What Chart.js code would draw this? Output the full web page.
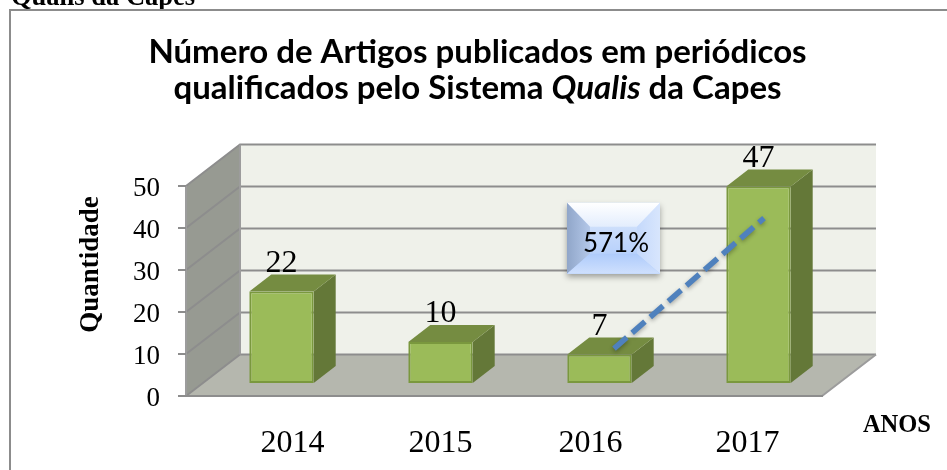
<!DOCTYPE html>
<html>
<head>
<meta charset="utf-8">
<style>html,body{margin:0;padding:0;background:#fff}canvas{display:block}</style>
<script src="https://cdn.jsdelivr.net/npm/chart.js@4/dist/chart.umd.min.js"></script>
</head>
<body>
<canvas id="c" width="947" height="470"></canvas>
<script>
const categories = ['2014', '2015', '2016', '2017'];
const artigos = [22, 10, 7, 47];
const yTicks = [0, 10, 20, 30, 40, 50];
const variationLabel = '571%';
const yTitle = 'Quantidade';
const xTitle = 'ANOS';
const caption = 'Qualis da Capes';

const WALL_DX = 54, WALL_DY = 41.5, BAR_SHIFT_X = 16, BAR_SHIFT_Y = 12, BAR_DX = 22, BAR_DY = 17;
const LABEL_NUDGE = [11, 0, -9, -11];
const SERIF = '"Liberation Serif", serif';
const SANS = 'Lato, sans-serif';

function poly(ctx, pts, fill) {
  ctx.beginPath();
  pts.forEach((p, i) => i ? ctx.lineTo(p[0], p[1]) : ctx.moveTo(p[0], p[1]));
  ctx.closePath();
  if (fill) { ctx.fillStyle = fill; ctx.fill(); }
}

const scene = {
  id: 'scene',
  beforeDraw(chart) {
    const { ctx, chartArea: a, scales: { y, x } } = chart;
    ctx.save();
    ctx.fillStyle = '#000';
    ctx.font = 'bold 26.5px ' + SERIF;
    ctx.textAlign = 'left';
    ctx.textBaseline = 'alphabetic';
    ctx.fillText(caption, 11, 5);
    ctx.strokeStyle = '#8c8c8c';
    ctx.lineWidth = 2;
    ctx.beginPath();
    ctx.moveTo(947, 10); ctx.lineTo(10, 10); ctx.lineTo(10, 470);
    ctx.stroke();

    const z = y.getPixelForValue(0), t = y.getPixelForValue(50);
    poly(ctx, [[a.left + WALL_DX, t - WALL_DY], [a.right + WALL_DX, t - WALL_DY], [a.right + WALL_DX, z - WALL_DY], [a.left + WALL_DX, z - WALL_DY]], '#eff1ea');
    poly(ctx, [[a.left, t], [a.left + WALL_DX, t - WALL_DY], [a.left + WALL_DX, z - WALL_DY], [a.left, z]], '#979a92');
    poly(ctx, [[a.left, z], [a.right, z], [a.right + WALL_DX, z - WALL_DY], [a.left + WALL_DX, z - WALL_DY]], '#b5b7ae');
    ctx.lineWidth = 2;
    ctx.strokeStyle = '#8d8d8d';
    yTicks.forEach(v => {
      const p = y.getPixelForValue(v);
      ctx.beginPath();
      ctx.moveTo(a.left, p);
      ctx.lineTo(a.left + WALL_DX, p - WALL_DY);
      ctx.lineTo(a.right + WALL_DX, p - WALL_DY);
      ctx.stroke();
    });
    ctx.beginPath();
    ctx.moveTo(a.right, z); ctx.lineTo(a.right + WALL_DX, z - WALL_DY);
    ctx.moveTo(a.left + WALL_DX, t - WALL_DY); ctx.lineTo(a.left + WALL_DX, z - WALL_DY);
    ctx.moveTo(a.left, t); ctx.lineTo(a.left, z);
    ctx.strokeStyle = '#9c9c9c';
    ctx.stroke();
    ctx.restore();
    x.getLabelItems().forEach((it, i) => {
      it.options.translation[0] = x.getPixelForTick(i) + LABEL_NUDGE[i] + BAR_SHIFT_X;
    });
    y.getLabelItems().forEach((it, i) => {
      it.options.translation[1] = y.getPixelForTick(i) + 2.5;
    });
  },
  beforeDatasetsDraw(chart) {
    const { ctx } = chart;
    ctx.save();
    ctx.translate(BAR_SHIFT_X, -BAR_SHIFT_Y);
    chart.getDatasetMeta(0).data.forEach(b => {
      const l = b.x - b.width / 2, r = b.x + b.width / 2, top = b.y, bot = b.base;
      poly(ctx, [[r, top], [r + BAR_DX, top - BAR_DY], [r + BAR_DX, bot - BAR_DY], [r, bot]], '#647838');
      poly(ctx, [[l, top], [l + BAR_DX, top - BAR_DY], [r + BAR_DX, top - BAR_DY], [r, top]], '#758c41');
    });
  },
  afterDatasetsDraw(chart) {
    const { ctx, scales: { x, y } } = chart;
    const bars = chart.getDatasetMeta(0).data;
    ctx.fillStyle = '#000';
    ctx.font = '32px ' + SERIF;
    ctx.textAlign = 'center';
    ctx.textBaseline = 'alphabetic';
    bars.forEach((b, i) => ctx.fillText(String(artigos[i]), b.x, b.y - BAR_DY - 3));
    ctx.restore();

    ctx.save();
    const c = x.getPixelForValue(2), top = y.getPixelForValue(46);
    const L = c - 16.5, R = L + 93, T = top, B = T + 71;
    const ix0 = L + 23, ix1 = R - 23, iy0 = T + 24, iy1 = B - 20;
    ctx.shadowColor = 'rgba(0,0,0,.35)'; ctx.shadowBlur = 6; ctx.shadowOffsetY = 3;
    ctx.fillStyle = '#b7cff7'; ctx.fillRect(L, T, R - L, B - T);
    ctx.shadowColor = 'transparent';
    let g = ctx.createLinearGradient(0, T, 0, B);
    g.addColorStop(0, '#e6effd'); g.addColorStop(.4, '#c9dcfb'); g.addColorStop(1, '#a9c8fb');
    ctx.fillStyle = g; ctx.fillRect(L, T, R - L, B - T);
    g = ctx.createLinearGradient(0, T, 0, iy0);
    g.addColorStop(0, '#ffffff'); g.addColorStop(1, '#e3edfd');
    poly(ctx, [[L, T], [R, T], [ix1, iy0], [ix0, iy0]], g);
    g = ctx.createLinearGradient(L, 0, ix0 + 10, 0);
    g.addColorStop(0, '#90a6c9'); g.addColorStop(1, '#c3d6f6');
    poly(ctx, [[L, T], [ix0, iy0], [ix0, iy1], [L, B]], g);
    g = ctx.createLinearGradient(ix1 - 10, 0, R, 0);
    g.addColorStop(0, '#bcd3fb'); g.addColorStop(1, '#d8e6fd');
    poly(ctx, [[R, T], [ix1, iy0], [ix1, iy1], [R, B]], g);
    g = ctx.createLinearGradient(0, iy1, 0, B);
    g.addColorStop(0, '#aecbfb'); g.addColorStop(1, '#cfe0fd');
    poly(ctx, [[L, B], [ix0, iy1], [ix1, iy1], [R, B]], g);
    ctx.fillStyle = '#000';
    ctx.font = '26px ' + SANS;
    ctx.textAlign = 'center';
    ctx.textBaseline = 'middle';
    ctx.fillText(variationLabel, (L + R) / 2 + 2.5, T + 41);

    ctx.shadowColor = 'rgba(0,0,0,.3)'; ctx.shadowBlur = 4; ctx.shadowOffsetY = 2;
    ctx.strokeStyle = '#4f81bd';
    ctx.lineWidth = 5.5;
    ctx.setLineDash([17, 7]);
    ctx.beginPath();
    ctx.moveTo(bars[2].x + 30.5, bars[2].y - 18);
    ctx.lineTo(bars[3].x + 21.5, bars[3].y + 19.5);
    ctx.stroke();
    ctx.restore();

    ctx.save();
    ctx.fillStyle = '#000';
    ctx.textBaseline = 'alphabetic';
    const TF = 'bold 33px ' + SANS, TI = 'italic bold 33px ' + SANS;
    ctx.font = TF;
    ctx.textAlign = 'center';
    ctx.fillText('Número de Artigos publicados em periódicos', 477.5, 63);
    const p1 = 'qualificados pelo Sistema ', p2 = 'Qualis', p3 = ' da Capes';
    const w1 = ctx.measureText(p1).width, w3 = ctx.measureText(p3).width;
    ctx.font = TI;
    const w2 = ctx.measureText(p2).width;
    const sx = 477.5 - (w1 + w2 + w3) / 2;
    ctx.textAlign = 'left';
    ctx.font = TF;
    ctx.fillText(p1, sx, 99);
    ctx.font = TI;
    ctx.fillText(p2, sx + w1, 99);
    ctx.font = TF;
    ctx.fillText(p3, sx + w1 + w2, 99);

    ctx.font = 'bold 24.5px ' + SERIF;
    ctx.textAlign = 'right';
    ctx.fillText(xTitle, 931, 432);
    ctx.font = 'bold 27px ' + SERIF;
    ctx.translate(98, 264.5);
    ctx.rotate(-Math.PI / 2);
    ctx.textAlign = 'center';
    ctx.fillText(yTitle, 0, 0);
    ctx.restore();
  }
};

new Chart(document.getElementById('c'), {
  type: 'bar',
  data: {
    labels: categories,
    datasets: [{
      label: 'Artigos',
      data: artigos,
      backgroundColor: '#9bbb59',
      borderColor: '#7a983e',
      borderWidth: 2,
      borderSkipped: false,
      barPercentage: 0.405,
      categoryPercentage: 1
    }]
  },
  plugins: [scene],
  options: {
    responsive: false,
    animation: false,
    events: [],
    layout: { padding: { top: 186, right: 125, left: 0, bottom: 0 } },
    plugins: { legend: { display: false }, title: { display: false }, tooltip: { enabled: false } },
    scales: {
      x: {
        afterFit: s => { s.height = 74; },
        grid: { display: false },
        border: { display: true, color: '#8d8d8d', width: 2 },
        ticks: { color: '#000', padding: 20, maxRotation: 0, font: { family: SERIF, size: 32 } }
      },
      y: {
        min: 0, max: 50,
        afterFit: s => { s.width = 186; },
        grid: { drawOnChartArea: false, drawTicks: true, tickLength: 8, color: '#8d8d8d', lineWidth: 2 },
        border: { display: false },
        ticks: { stepSize: 10, color: '#000', padding: 18, font: { family: SERIF, size: 27 } }
      }
    }
  }
});
</script>
</body>
</html>
